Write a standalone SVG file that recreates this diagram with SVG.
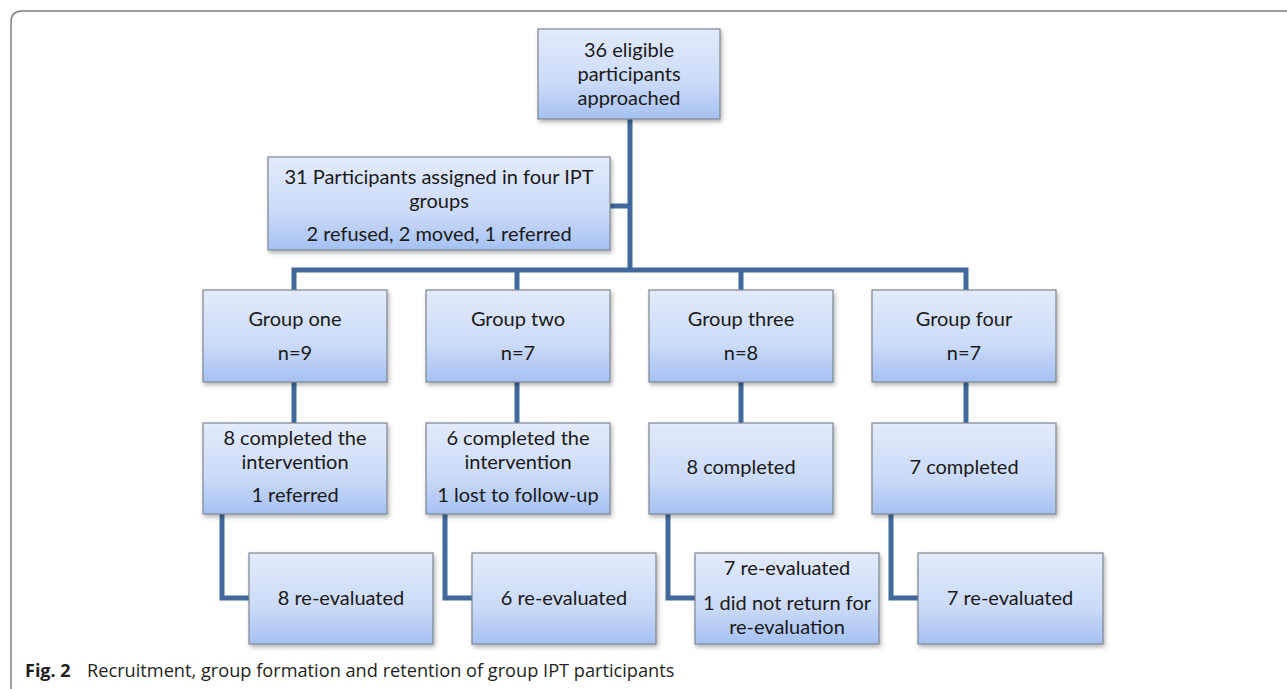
<svg xmlns="http://www.w3.org/2000/svg" width="1287" height="689" viewBox="0 0 1287 689">
<style>
.box{fill:url(#g);stroke:#7d8690;stroke-width:1.2;filter:url(#sh)}
.t{font-family:Lato,"Open Sans",sans-serif;font-size:20px;fill:#1a1a1a;text-anchor:middle}
.c{fill:none;stroke:#41699b;stroke-width:5}
.cap{font-family:"Open Sans","Noto Sans",sans-serif;font-size:18.2px;fill:#231f20}
</style>
<defs>
<linearGradient id="g" x1="0" y1="0" x2="0" y2="1">
<stop offset="0" stop-color="#e3ebfb"/>
<stop offset="0.6" stop-color="#cbdaf7"/>
<stop offset="1" stop-color="#a5c1f2"/>
</linearGradient>
<filter id="sh" x="-10%" y="-10%" width="125%" height="130%">
<feDropShadow dx="1.5" dy="2.5" stdDeviation="2" flood-color="#000" flood-opacity="0.3"/>
</filter>
</defs>
<rect width="1287" height="689" fill="#fff"/>
<path d="M11,689 L11,22 Q11,11 22,11 L1287,11" fill="none" stroke="#7f7f7f" stroke-width="1.5"/>
<g id="connectors">
<path class="c" d="M630,119 V270"/>
<path class="c" d="M610,206 H630"/>
<path class="c" d="M294,290 V270 H966 V290"/>
<path class="c" d="M517,270 V290"/>
<path class="c" d="M741,270 V290"/>
<path class="c" d="M294,382 V423"/>
<path class="c" d="M517,382 V423"/>
<path class="c" d="M741,382 V423"/>
<path class="c" d="M966,382 V423"/>
<path class="c" d="M222,514 V598 H249"/>
<path class="c" d="M445,514 V598 H472"/>
<path class="c" d="M668,514 V598 H695"/>
<path class="c" d="M891,514 V598 H918"/>
</g>
<g id="n-approached"><rect class="box" x="538" y="29" width="182" height="90"/>
<text class="t" x="629" y="57">36 eligible</text><text class="t" x="629" y="81">participants</text><text class="t" x="629" y="105">approached</text></g>
<g id="n-assigned"><rect class="box" x="268" y="157" width="342" height="93"/>
<text class="t" x="439" y="184">31 Participants assigned in four IPT</text><text class="t" x="439" y="208">groups</text><text class="t" x="439" y="241">2 refused, 2 moved, 1 referred</text></g>
<g id="n-g1"><rect class="box" x="203" y="290" width="184" height="92"/>
<text class="t" x="295" y="326">Group one</text><text class="t" x="295" y="360">n=9</text></g>
<g id="n-g2"><rect class="box" x="426" y="290" width="184" height="92"/>
<text class="t" x="518" y="326">Group two</text><text class="t" x="518" y="360">n=7</text></g>
<g id="n-g3"><rect class="box" x="649" y="290" width="184" height="92"/>
<text class="t" x="741" y="326">Group three</text><text class="t" x="741" y="360">n=8</text></g>
<g id="n-g4"><rect class="box" x="872" y="290" width="184" height="92"/>
<text class="t" x="964" y="326">Group four</text><text class="t" x="964" y="360">n=7</text></g>
<g id="n-c1"><rect class="box" x="203" y="423" width="184" height="91"/>
<text class="t" x="295" y="445">8 completed the</text><text class="t" x="295" y="469">intervention</text><text class="t" x="295" y="502">1 referred</text></g>
<g id="n-c2"><rect class="box" x="426" y="423" width="184" height="91"/>
<text class="t" x="518" y="445">6 completed the</text><text class="t" x="518" y="469">intervention</text><text class="t" x="518" y="502">1 lost to follow-up</text></g>
<g id="n-c3"><rect class="box" x="649" y="423" width="184" height="91"/>
<text class="t" x="741" y="474">8 completed</text></g>
<g id="n-c4"><rect class="box" x="872" y="423" width="184" height="91"/>
<text class="t" x="964" y="474">7 completed</text></g>
<g id="n-r1"><rect class="box" x="249" y="553" width="184" height="91"/>
<text class="t" x="341" y="605">8 re-evaluated</text></g>
<g id="n-r2"><rect class="box" x="472" y="553" width="184" height="91"/>
<text class="t" x="564" y="605">6 re-evaluated</text></g>
<g id="n-r3"><rect class="box" x="695" y="553" width="184" height="91"/>
<text class="t" x="787" y="575">7 re-evaluated</text><text class="t" x="787" y="610">1 did not return for</text><text class="t" x="787" y="634">re-evaluation</text></g>
<g id="n-r4"><rect class="box" x="918" y="553" width="185" height="91"/>
<text class="t" x="1010" y="605">7 re-evaluated</text></g>
<text class="cap" x="25" y="677"><tspan font-weight="bold" font-size="18">Fig. 2</tspan><tspan x="87">Recruitment, group formation and retention of group IPT participants</tspan></text>
</svg>
